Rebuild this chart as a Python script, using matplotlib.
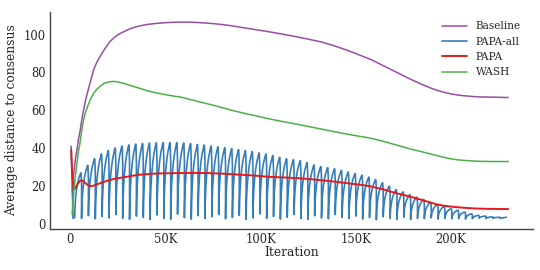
import matplotlib

matplotlib.use("Agg")
import matplotlib.pyplot as plt
import numpy as np
import seaborn as sns
from matplotlib.ticker import FuncFormatter

# smooth curves (iteration in thousands, value)
baseline_it = [1, 1.5, 2, 2.7, 3.5, 4.2, 5, 6, 7, 8.2, 9.5, 10.8, 12.3, 14, 16, 18.5, 21, 23.5,
               26, 29, 32, 36, 40, 45, 50, 54, 58, 62, 65, 70, 75, 80, 85, 90, 95, 100, 105, 110,
               115, 120, 125, 131.6, 138, 145, 152, 158, 164, 170, 175, 179, 184, 188, 192, 196,
               200, 203, 206, 210.5, 215, 220, 225, 230]
baseline_val = [17, 23, 28, 34, 39, 44, 48, 54.5, 60, 66, 71, 76, 81.5, 85.5, 89, 93, 96.5, 98.8,
                100.5, 102, 103.3, 104.5, 105.3, 105.9, 106.3, 106.5, 106.6, 106.6, 106.5, 106.2,
                105.8, 105.3, 104.6, 103.8, 103, 102.2, 101.4, 100.5, 99.6, 98.6, 97.6, 96.2, 94.3,
                91.9, 89.2, 86.8, 83.8, 80.8, 78.3, 76.3, 74, 72.3, 70.8, 69.6, 68.7, 68.2, 67.8,
                67.4, 67.1, 67, 66.9, 66.8]

wash_it = [1, 1.5, 2, 2.7, 3.5, 4.2, 5, 6, 7, 8.2, 9.5, 10.8, 12.3, 14, 16, 18, 20, 22.6, 24, 26,
           29, 32, 36, 40, 45, 50, 54, 58, 64, 70, 77, 85, 92, 98, 105, 112, 120, 130, 140, 149,
           158, 165, 172, 178, 184, 190, 195, 199, 203.5, 208, 215, 222, 230]
wash_val = [5, 12, 18, 25, 32, 37.5, 42, 49, 55, 59.5, 63, 66.3, 69, 71.2, 73, 74.3, 75, 75.3,
            75.2, 74.8, 74, 73, 71.8, 70.5, 69.3, 68.3, 67.6, 67, 65.5, 64, 62.2, 60, 58.3, 57,
            55.4, 54, 52.5, 50.5, 48.5, 46.8, 45.3, 43.5, 41.5, 39.8, 38.3, 36.8, 35.5, 34.6,
            33.9, 33.5, 33.1, 33, 33]

papa_it = [0.5, 1.0, 1.7, 2.3, 3, 3.8, 4.5, 5.2, 6, 6.8, 7.5, 8.3, 9, 9.8, 10.5, 11.2, 12, 13.5,
           15, 17.5, 20, 22.5, 25, 27.5, 30, 34, 38, 44, 50, 57, 65, 72, 80, 87, 95, 100, 105,
           112, 120, 127, 135, 142, 150, 154, 158, 164, 170, 176, 181.6, 187, 192, 196, 200,
           203, 208, 213, 220, 225, 230]
papa_val = [39, 28, 18, 18.5, 19.5, 21, 22, 22.8, 23, 22.7, 22, 21.3, 20.8, 20.3, 20, 20, 20.2,
            20.7, 21.3, 22.2, 23, 23.7, 24.2, 24.6, 25, 25.7, 26.2, 26.6, 26.8, 26.9, 27, 26.9,
            26.6, 26.2, 25.7, 25.3, 24.9, 24.6, 24.2, 23.6, 22.8, 22, 21, 20.5, 19.8, 18.4, 16.6,
            15.1, 13.6, 12, 10.5, 9.7, 9.2, 8.9, 8.5, 8.2, 8, 7.95, 7.9]

# PAPA-all: one saw tooth per averaging period
papa_all_start = [(0.5, 41), (1.5, 3)]
tooth_period = 3.6  # K iterations
first_peak = 5.6
tooth_peaks = [27, 31, 34.5, 37, 38.8, 40.2, 41.2, 41.8, 42.2, 42.5, 42.7, 42.9, 43, 43, 43,
               42.8, 42.5, 42, 41.7, 41.2, 40.8, 40.3, 39.8, 39.3, 38.8, 38.3, 37.6, 37, 36.2,
               35.2, 34.5, 34, 33.5, 32.5, 31.2, 30.3, 29.8, 29.2, 28.3, 27.5, 26.7, 25.8, 24.8,
               23.5, 21.8, 20, 18.2, 17, 15.5, 14.2, 13, 11.5, 10.3, 9.4, 8.1, 7.3, 6.3, 5.4,
               4.6, 4.2, 3.8, 3.6]
tooth_troughs = [3.5, 3, 4.5, 2.8, 4, 3.2, 5, 3, 2.5, 4.2, 3.5, 2.4, 4.8, 3, 2.5, 5.2, 3.4, 2.6,
                 4.4, 3, 3.8, 5, 2.8, 3.5, 4.6, 2.5, 3.2, 5.4, 3, 4, 2.6, 3.6, 5, 3, 2.4, 4.4,
                 3.2, 2.8, 5, 3.5, 3, 4.2, 2.6, 3.4, 2.3, 3.8, 3, 2.5, 3.6, 2.4, 3, 2.8, 3.2,
                 2.6, 3, 2.7, 2.9, 2.6, 2.8, 3.1, 2.9, 3]
papa_all_end = (229, 3.6)
# profile of one tooth (offset from the peak in periods, fraction of height)
tooth_shape_x = [-0.9, -0.86, -0.78, -0.66, -0.5, -0.32, -0.15, -0.05, 0.0, 0.03, 0.1]
tooth_shape_y = [0, 0.22, 0.42, 0.6, 0.75, 0.87, 0.95, 0.99, 1.0, 0.98, 0.75]

labels = ["Baseline", "PAPA-all", "PAPA", "WASH"]
colors = ["#984ea3", "#377eb8", "#e41a1c", "#4daf4a"]


def papa_all_curve():
    xs = [p[0] for p in papa_all_start]
    ys = [p[1] for p in papa_all_start]
    for k, (pk, tr) in enumerate(zip(tooth_peaks, tooth_troughs)):
        t_peak = first_peak + k * tooth_period
        for fx, fy in zip(tooth_shape_x, tooth_shape_y):
            xs.append(t_peak + fx * tooth_period)
            ys.append(tr + fy * (pk - tr))
    xs.append(xs[-1] + 0.25)
    ys.append(tooth_troughs[-1])
    xs.append(papa_all_end[0])
    ys.append(papa_all_end[1])
    return np.array(xs) * 1000, np.array(ys)


sns.set_style("white")
plt.rcParams["font.family"] = ["DejaVu Serif"]

fig = plt.figure(figsize=(5.4, 2.7), dpi=100)
ax = fig.add_axes([0.093, 0.152, 0.894, 0.804])

ax.plot(np.array(baseline_it) * 1000, baseline_val, color=colors[0], lw=1.1, label=labels[0])
bx, by = papa_all_curve()
ax.plot(bx, by, color=colors[1], lw=1.2, label=labels[1])
ax.plot(np.array(papa_it) * 1000, papa_val, color=colors[2], lw=1.4, label=labels[2])
ax.plot(np.array(wash_it) * 1000, wash_val, color=colors[3], lw=1.1, label=labels[3])

ax.set_xlim(-10500, 243000)
ax.set_ylim(-2.6, 112)
ax.set_xticks([0, 50000, 100000, 150000, 200000])
ax.xaxis.set_major_formatter(FuncFormatter(lambda v, _: "0" if v == 0 else f"{int(v / 1000)}K"))
ax.set_yticks([0, 20, 40, 60, 80, 100])
ax.tick_params(labelsize=8.3, length=0, pad=3, colors="#262626")
ax.set_xlabel("Iteration", fontsize=8.8, labelpad=0)
ax.set_ylabel("Average distance to consensus", fontsize=8.8, labelpad=4)
ax.spines[["top", "right"]].set_visible(False)
for s in ("left", "bottom"):
    ax.spines[s].set_color("#444444")
    ax.spines[s].set_linewidth(1.0)

ax.legend(loc="upper right", frameon=False, fontsize=7.6, handlelength=2.4,
          labelspacing=0.5, bbox_to_anchor=(0.995, 1.0))

fig.savefig("out.png", dpi=100)
